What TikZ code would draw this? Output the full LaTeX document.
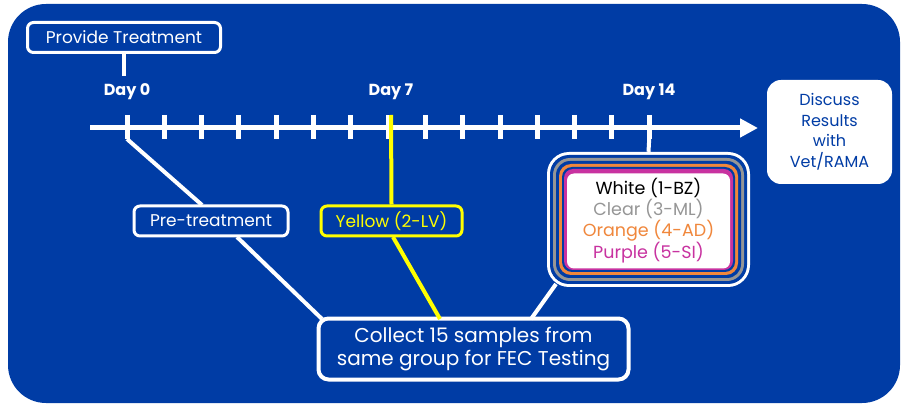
\documentclass[tikz,border=0pt]{standalone}
\usepackage{fontspec}
\setmainfont{Poppins}
\usetikzlibrary{arrows.meta}
\definecolor{bg}{RGB}{0,60,165}
\definecolor{ylw}{RGB}{255,255,0}
\definecolor{org}{RGB}{240,135,60}
\definecolor{prp}{RGB}{200,50,160}
\definecolor{gry}{RGB}{150,150,150}
\tikzset{
  lbox/.style={draw=white, line width=3pt, rounded corners=6pt, fill=bg, text=white,
    font=\fontsize{17}{20}\selectfont, inner sep=0pt, align=center},
  wline/.style={draw=white, line width=5pt},
  tickmark/.style={draw=white, line width=5pt},
  daylbl/.style={text=white, font=\fontsize{16}{18}\selectfont\bfseries},
  layer/.style={rounded corners=#1, inner sep=0pt, draw=none},
}
\begin{document}
\begin{tikzpicture}[x=1pt,y=-1pt]
\useasboundingbox (0,0) rectangle (912,411);
\fill[bg, rounded corners=38pt] (8,4) rectangle (900,403);
% timeline
\coordinate (tl0) at (90,128);
\coordinate (tl1) at (758,128);
\draw[wline, -{Triangle[length=18pt,width=18pt]}] (tl0) -- (tl1);
\foreach \i in {0,...,14}{
  \coordinate (t\i) at ({127+37.3*\i},115);
  \coordinate (b\i) at ({127+37.3*\i},139);
  \draw[tickmark] (t\i) -- (b\i);
}
% nodes
\node[lbox, minimum width=193pt, minimum height=30pt] (prov) at (124,37.5) {Provide Treatment};
\node[lbox, minimum width=154pt, minimum height=30pt] (pre) at (211,221) {Pre-treatment};
\node[lbox, draw=ylw, text=ylw, minimum width=141pt, minimum height=30pt] (yel) at (391.5,221) {Yellow (2-LV)};
\node[lbox, line width=4pt, rounded corners=10pt, minimum width=310pt, minimum height=61pt, font=\fontsize{20}{23}\selectfont] (coll) at (473.5,349) {Collect 15 samples from\\same group for FEC Testing};
\node[lbox, fill=white, draw=none, text=bg, rounded corners=14pt, minimum width=125pt, minimum height=104pt, font=\fontsize{16}{20.5}\selectfont] (disc) at (829.5,132) {Discuss\\Results\\with\\Vet/RAMA};
% connector end points
\coordinate (provtick) at (124,76);
\coordinate (y7) at (391,115);
\coordinate (c0) at (322,319);
\coordinate (cy) at (440,319);
\coordinate (cs) at (531,319);
\coordinate (s0) at (556,284);
\coordinate (preA) at (202,205);
\coordinate (preB) at (237,237);
\coordinate (yelB) at (393,237);
% stacked box
\node[layer=22pt, fill=white, minimum width=203pt, minimum height=135pt] (stack) at (648.5,219.5) {};
\node[layer=19pt, fill=bg, minimum width=197pt, minimum height=129pt] (stackA) at (stack) {};
\node[layer=17pt, fill=gry, minimum width=191pt, minimum height=123pt] (stackB) at (stack) {};
\node[layer=14pt, fill=bg, minimum width=185pt, minimum height=117pt] (stackC) at (stack) {};
\node[layer=12pt, fill=org, minimum width=179pt, minimum height=111pt] (stackD) at (stack) {};
\node[layer=10pt, fill=bg, minimum width=173pt, minimum height=105pt] (stackE) at (stack) {};
\node[layer=9pt, fill=prp, minimum width=169pt, minimum height=101pt] (stackF) at (stack) {};
\node[layer=7pt, fill=white, minimum width=163pt, minimum height=95pt, align=center, font=\fontsize{17.5}{21}\selectfont] (stackG) at (648.5,221) {\textcolor{black}{White (1-BZ)}\\\textcolor{gry}{Clear (3-ML)}\\\textcolor{org}{Orange (4-AD)}\\\textcolor{prp}{Purple (5-SI)}};
% connecting lines
\draw[white, line width=4pt] (prov.south) -- (provtick);
\draw[white, line width=4pt] (b14) -- (stack.north);
\draw[ylw, line width=4pt] (y7) -- (yel.north);
\draw[white, line width=4pt] (b0) -- (preA);
\draw[white, line width=4pt] (preB) -- (c0);
\draw[ylw, line width=4pt] (yelB) -- (cy);
\draw[white, line width=4pt] (s0) -- (cs);
% labels
\node[daylbl] (d0) at (127,92) {Day 0};
\node[daylbl] (d7) at (391,92) {Day 7};
\node[daylbl] (d14) at (649,92) {Day 14};
\end{tikzpicture}
\end{document}
